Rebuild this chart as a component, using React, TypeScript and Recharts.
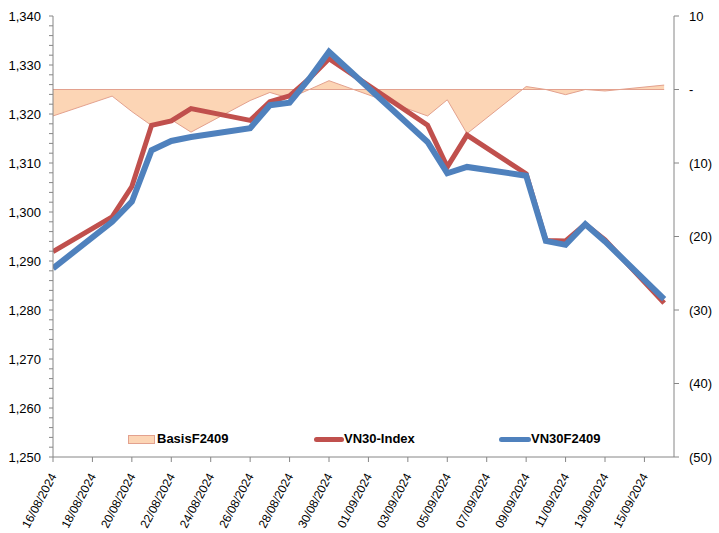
import React from 'react';
import { ComposedChart, Line, Area, XAxis, YAxis, ReferenceLine } from 'recharts';

document.body.style.margin = '0';

// trading days shown on the chart
const dates = [
  '16/08/2024', '19/08/2024', '20/08/2024', '21/08/2024', '22/08/2024', '23/08/2024',
  '26/08/2024', '27/08/2024', '28/08/2024', '29/08/2024', '30/08/2024',
  '04/09/2024', '05/09/2024', '06/09/2024', '09/09/2024', '10/09/2024',
  '11/09/2024', '12/09/2024', '13/09/2024', '16/09/2024',
];

const vn30Index = [
  1291.9, 1299.0, 1305.2, 1317.7, 1318.6, 1321.1,
  1318.7, 1322.5, 1323.7, 1327.2, 1331.3,
  1317.7, 1309.2, 1315.7, 1307.8, 1294.2,
  1294.1, 1297.5, 1294.3, 1281.4,
];

const vn30F2409 = [
  1288.5, 1298.0, 1302.1, 1312.6, 1314.5, 1315.3,
  1317.1, 1321.8, 1322.3, 1327.2, 1332.7,
  1314.3, 1307.9, 1309.2, 1307.4, 1294.1,
  1293.3, 1297.5, 1294.0, 1282.2,
];

const basisF2409 = [
  -3.6, -0.9, -3.0, -4.9, -4.1, -5.8,
  -1.5, -0.4, -1.2, 0.0, 1.2,
  -3.6, -1.4, -6.0, 0.4, 0.0,
  -0.7, 0.0, -0.2, 0.6,
];

const tickLabels = [
  '16/08/2024', '18/08/2024', '20/08/2024', '22/08/2024', '24/08/2024', '26/08/2024',
  '28/08/2024', '30/08/2024', '01/09/2024', '03/09/2024', '05/09/2024', '07/09/2024',
  '09/09/2024', '11/09/2024', '13/09/2024', '15/09/2024',
];

const leftMajor = [1250, 1260, 1270, 1280, 1290, 1300, 1310, 1320, 1330, 1340];
const rightTicks = [10, 0, -10, -20, -30, -40, -50];

const toUtc = (s: string) => {
  const [d, m, y] = s.split('/').map(Number);
  return Date.UTC(y, m - 1, d);
};
const start = toUtc(dates[0]);
const dayOf = (s: string) => (toUtc(s) - start) / 86400000;

const data = dates.map((d, i) => ({
  day: dayOf(d),
  index: vn30Index[i],
  fut: vn30F2409[i],
  basis: basisF2409[i],
}));

const tickDays = tickLabels.map(dayOf);
const labelByDay: Record<number, string> = {};
tickLabels.forEach((l) => { labelByDay[dayOf(l)] = l; });

// minor ticks every 2 points between the labelled ones
const leftTicks: number[] = [];
leftMajor.forEach((v, i) => {
  leftTicks.push(v);
  if (i < leftMajor.length - 1) [2, 4, 6, 8].forEach((s) => leftTicks.push(v + s));
});

const FONT = '"Liberation Sans", Arial, sans-serif';
const AXIS = '#868686';
const RED = '#C0504D';
const BLUE = '#4F81BD';
const FILL = '#FCD5B5';
const EDGE = '#E3A18E';

const DateTick = (props: any) => {
  const { x, y, payload } = props;
  const tx = x + 4;
  const ty = y + 12;
  return (
    <text x={tx} y={ty} transform={`rotate(-62 ${tx} ${ty})`} textAnchor="end"
      fontSize={12} fontFamily={FONT} fill="#000">
      {labelByDay[payload.value]}
    </text>
  );
};

const ChartLegend = () => {
  const txt: React.CSSProperties = {
    position: 'absolute', top: 0, fontFamily: FONT, fontSize: 13, fontWeight: 'bold',
    color: '#000', lineHeight: '18px', whiteSpace: 'nowrap',
  };
  return (
    <div style={{ position: 'absolute', left: 0, top: 430, width: 719, height: 18 }}>
      <div style={{ position: 'absolute', left: 128, top: 5, width: 25, height: 7, background: FILL, border: `1px solid ${EDGE}` }} />
      <span style={{ ...txt, left: 157 }}>BasisF2409</span>
      <div style={{ position: 'absolute', left: 314, top: 7, width: 30, height: 5, background: RED, borderRadius: 3 }} />
      <span style={{ ...txt, left: 344 }}>VN30-Index</span>
      <div style={{ position: 'absolute', left: 499, top: 7, width: 32, height: 5, background: BLUE, borderRadius: 3 }} />
      <span style={{ ...txt, left: 531 }}>VN30F2409</span>
    </div>
  );
};

export default function App() {
  return (
    <div style={{ position: 'relative', width: 719, height: 533, background: '#fff' }}>
      <ComposedChart width={719} height={533} data={data} margin={{ top: 16, right: 0, bottom: 0, left: 0 }}>
        <XAxis
          type="number" dataKey="day" domain={[0, 31.5]} ticks={tickDays} interval={0}
          height={76} stroke={AXIS} tickSize={5} tick={<DateTick />} allowDataOverflow
        />
        <YAxis
          yAxisId="left" domain={[1250, 1340]} ticks={leftTicks} interval={0} width={53}
          stroke={AXIS} tickSize={4} tickMargin={8}
          tick={{ fontSize: 13, fontFamily: FONT, fill: '#000' }}
          tickFormatter={(v: number) => (v % 10 === 0 ? v.toLocaleString('en-US') : '')}
        />
        <YAxis
          yAxisId="right" orientation="right" domain={[-50, 10]} ticks={rightTicks} interval={0}
          width={45} stroke={AXIS} tickSize={5} tickMargin={10}
          tick={{ fontSize: 13, fontFamily: FONT, fill: '#000', textAnchor: 'start' }}
          tickFormatter={(v: number) => (v === 0 ? '-' : v < 0 ? `(${-v})` : `${v}`)}
        />
        <Area
          yAxisId="right" type="linear" dataKey="basis" baseValue={0}
          fill={FILL} fillOpacity={1} stroke={EDGE} strokeWidth={1} isAnimationActive={false}
        />
        <ReferenceLine
          yAxisId="right" segment={[{ x: 0, y: 0 }, { x: dayOf(dates[dates.length - 1]), y: 0 }]}
          stroke={EDGE} strokeWidth={1}
        />
        <Line
          yAxisId="left" type="linear" dataKey="index" stroke={RED} strokeWidth={5}
          dot={false} activeDot={false} isAnimationActive={false}
        />
        <Line
          yAxisId="left" type="linear" dataKey="fut" stroke={BLUE} strokeWidth={6}
          dot={false} activeDot={false} isAnimationActive={false}
        />
      </ComposedChart>
      <ChartLegend />
    </div>
  );
}
